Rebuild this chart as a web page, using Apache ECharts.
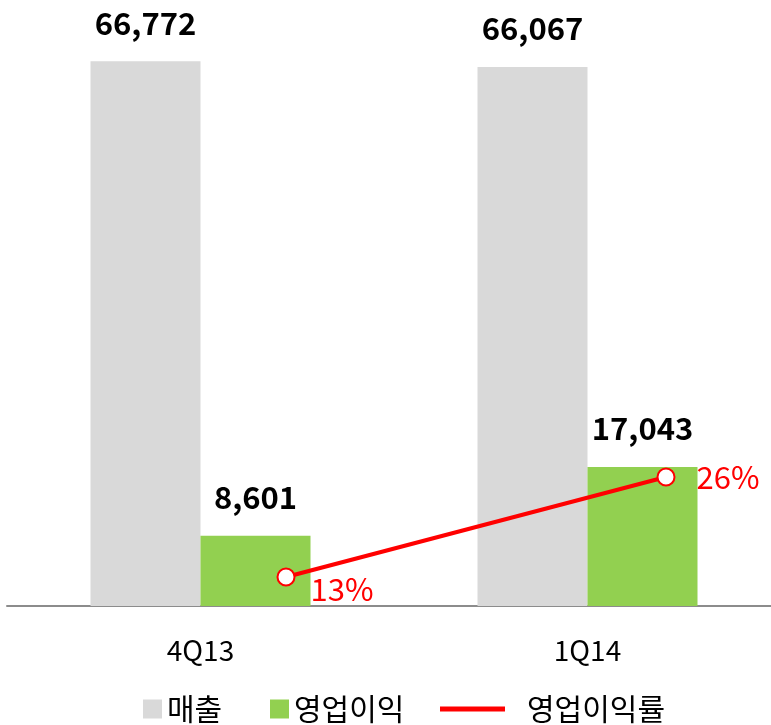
<!DOCTYPE html>
<html><head><meta charset="utf-8">
<script src="https://cdn.jsdelivr.net/npm/echarts@6/dist/echarts.min.js"></script>
<style>html,body{margin:0;padding:0;background:#fff}#c{width:771px;height:725px}</style>
</head><body><div id="c"></div>
<script>
const categories = ['4Q13', '1Q14'];
const sales = [66772, 66067];
const opProfit = [8601, 17043];
const opMargin = [13, 26];
const seriesNames = ['매출', '영업이익', '영업이익률'];

const font = '"Noto Sans CJK KR", "Noto Sans", sans-serif';
const chart = echarts.init(document.getElementById('c'));
const legendBase = {orient:'horizontal', itemGap:0, padding:0, textStyle:{fontSize:30, color:'#000', fontFamily:font}};
chart.setOption({
  animation:false,
  grid:[
    {left:7, width:774, top:35, bottom:119, outerBoundsMode:'none', containLabel:false},
    {left:96, width:760, top:35, bottom:119, outerBoundsMode:'none', containLabel:false}
  ],
  legend:[
    Object.assign({}, legendBase, {data:[{name:seriesNames[0], icon:'rect'}], left:143, top:694, itemWidth:19, itemHeight:19}),
    Object.assign({}, legendBase, {data:[{name:seriesNames[1], icon:'rect'}], left:270, top:694, itemWidth:19, itemHeight:19}),
    Object.assign({}, legendBase, {data:[{name:seriesNames[2], icon:'rect', itemStyle:{color:'#ff0000', borderWidth:0}}], left:440, top:694, itemWidth:65, itemHeight:5,
      textStyle:{fontSize:30, color:'#000', fontFamily:font, padding:[0,0,0,17]}})
  ],
  xAxis:[
    {type:'category', gridIndex:0, data:categories,
      axisLine:{lineStyle:{color:'#8c8c8c', width:2}}, axisTick:{show:false},
      axisLabel:{fontSize:28, color:'#000', margin:30, fontFamily:font}},
    {type:'category', gridIndex:1, data:categories, show:false}
  ],
  yAxis:[
    {type:'value', gridIndex:0, min:0, max:70000, show:false, splitLine:{show:false}},
    {type:'value', gridIndex:1, min:9.23, max:83.46, show:false, splitLine:{show:false}}
  ],
  series:[
    {name:seriesNames[0], type:'bar', xAxisIndex:0, yAxisIndex:0, data:sales, barWidth:110, barGap:'0%',
      itemStyle:{color:'#d9d9d9'},
      label:{show:true, position:'top', distance:23, fontSize:31, fontWeight:'bold', color:'#000', fontFamily:font,
        formatter:p=>p.value.toLocaleString('en-US')}},
    {name:seriesNames[1], type:'bar', xAxisIndex:0, yAxisIndex:0, data:opProfit, barWidth:110, barGap:'0%',
      itemStyle:{color:'#92d050'},
      label:{show:true, position:'top', distance:23, fontSize:31, fontWeight:'bold', color:'#000', fontFamily:font,
        formatter:p=>p.value.toLocaleString('en-US')}},
    {name:seriesNames[2], type:'line', xAxisIndex:1, yAxisIndex:1,
      data:opMargin.map((v,i)=>({value:v, label:{offset: i===0 ? [0,12] : [6,0]}})),
      symbol:'circle', symbolSize:17, showAllSymbol:true,
      lineStyle:{color:'#ff0000', width:4},
      itemStyle:{color:'#fff', borderColor:'#ff0000', borderWidth:2},
      label:{show:true, position:'right', distance:15, fontSize:31, color:'#ff0000', fontFamily:font,
        formatter:p=>p.value+'%'}}
  ]
});
</script></body></html>
